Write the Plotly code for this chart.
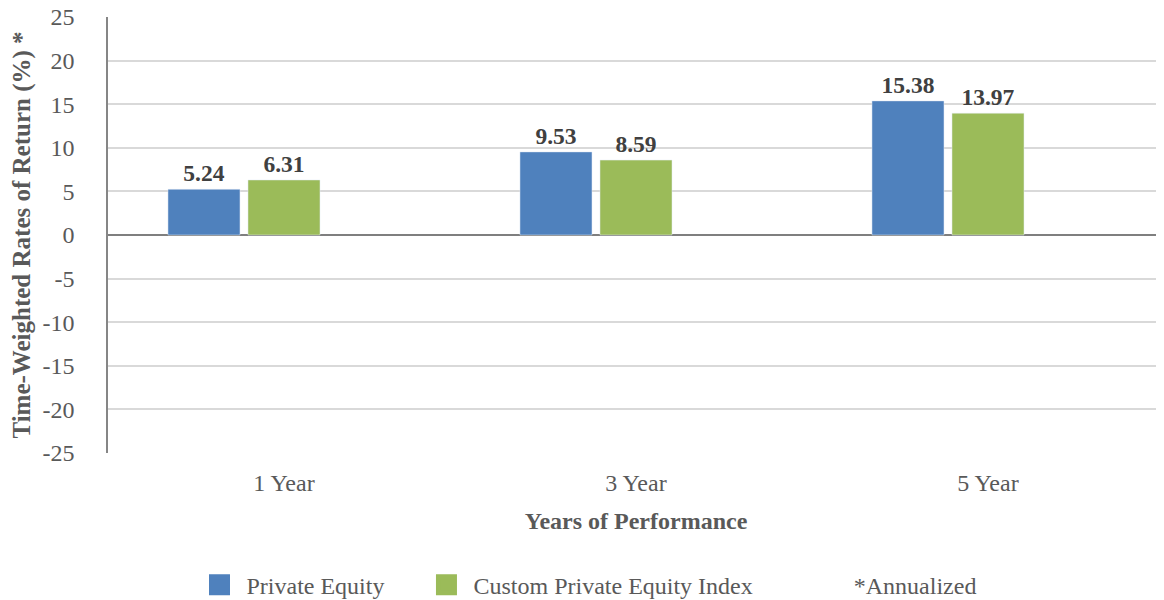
import plotly.graph_objects as go

periods = ["1 Year", "3 Year", "5 Year"]
private_equity = [5.24, 9.53, 15.38]
custom_index = [6.31, 8.59, 13.97]
annualized_note = [None, None, None]
y_ticks = [-25, -20, -15, -10, -5, 0, 5, 10, 15, 20, 25]

FONT = "Liberation Serif, Times New Roman, serif"
BLUE = "#4f81bd"
GREEN = "#9bbb59"
GREY = "#595959"
NB = "\u00a0"  # padding so the legend entries spread out like the original

fig = go.Figure()
fig.add_trace(go.Bar(
    x=periods, y=private_equity, name="Private Equity",
    marker=dict(color=BLUE), showlegend=False,
    text=[f"{v:.2f}" for v in private_equity], textposition="outside",
    textfont=dict(size=23.5, color="#404040", family=FONT, weight="bold"),
    cliponaxis=False, constraintext="none",
))
fig.add_trace(go.Bar(
    x=periods, y=custom_index, name="Custom Private Equity Index",
    marker=dict(color=GREEN), showlegend=False,
    text=[f"{v:.2f}" for v in custom_index], textposition="outside",
    textfont=dict(size=23.5, color="#404040", family=FONT, weight="bold"),
    cliponaxis=False, constraintext="none",
))
# empty series, keeps its slot in each group like the original chart
fig.add_trace(go.Bar(
    x=periods, y=annualized_note, name="*Annualized",
    marker=dict(color="rgba(0,0,0,0)"), showlegend=False,
))

# legend entries with bigger square swatches
for name, color in [("Private Equity" + NB * 5, BLUE),
                    ("Custom Private Equity Index" + NB * 7, GREEN),
                    ("*Annualized", "rgba(0,0,0,0)")]:
    fig.add_trace(go.Scatter(
        x=[None], y=[None], mode="markers", name=name,
        marker=dict(symbol="square", size=16, color=color,
                    line=dict(color=color, width=5)),
    ))

# page body has an 8px margin, so the figure is 8px smaller each way
fig.update_layout(
    width=1156, height=592,
    margin=dict(l=100, r=0, t=9, b=147, autoexpand=False),
    paper_bgcolor="white", plot_bgcolor="white",
    font=dict(family=FONT, size=24, color=GREY),
    barmode="group", bargap=0.318, bargroupgap=0.1,
    showlegend=True,
    legend=dict(
        orientation="h", x=0.08, y=-0.303, xanchor="left", yanchor="middle",
        font=dict(size=24, color=GREY), itemwidth=44,
        traceorder="normal", itemsizing="trace",
    ),
)
fig.update_xaxes(
    automargin=False,
    showgrid=False, showline=False, zeroline=False,
    ticks="", ticklabelstandoff=13,
    tickfont=dict(size=24, color=GREY),
    title=dict(text="<b>Years of Performance</b>", standoff=17,
               font=dict(size=24, color=GREY)),
)
fig.update_yaxes(
    automargin=False,
    range=[-25, 25],
    tickmode="array", tickvals=y_ticks, ticktext=[str(t) for t in y_ticks],
    ticklabeloverflow="allow",
    showgrid=True, gridcolor="#d9d9d9", gridwidth=1.5,
    showline=True, linecolor="#868686", linewidth=1.5,
    zeroline=True, zerolinecolor="#7f7f7f", zerolinewidth=1.5,
    ticks="", ticklabelstandoff=27,
    tickfont=dict(size=24, color=GREY),
    title=dict(text="<b>Time-Weighted Rates of Return (%) *</b>", standoff=7,
               font=dict(size=25, color=GREY)),
)

fig.write_html("out.html")
